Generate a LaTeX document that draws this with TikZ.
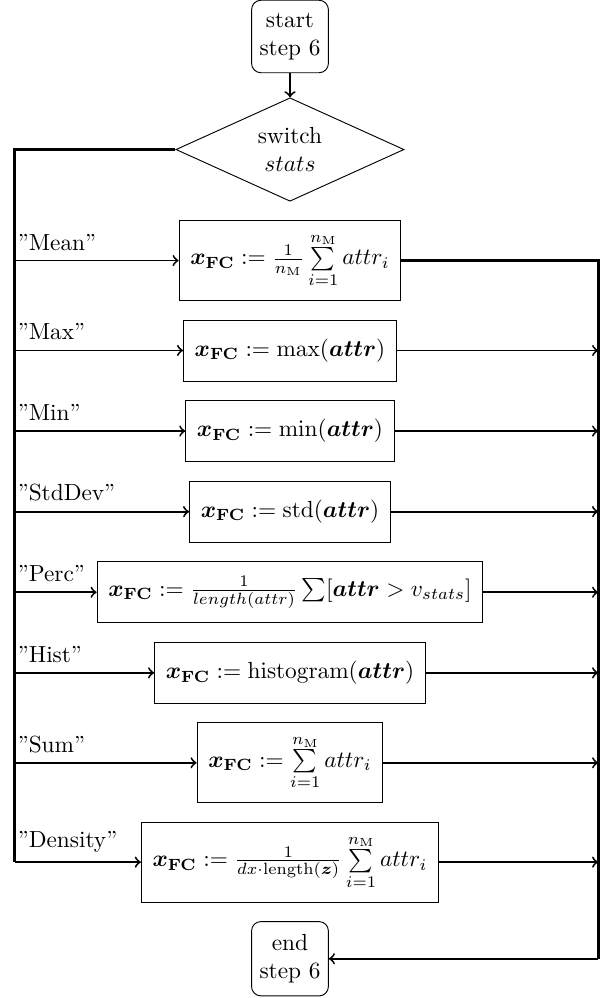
\documentclass[tikz,border=0pt]{standalone}
\usepackage{amsmath,amssymb}
\usetikzlibrary{matrix,arrows,shapes.geometric}

\tikzset{
  term/.style={draw, rounded corners, align=center, inner xsep=3.4pt, inner ysep=5.5pt},
  switchbox/.style={draw, diamond, aspect=2.2, align=center, inner sep=0pt, minimum width=3.44cm, minimum height=1.56cm},
  calc/.style={draw, inner xsep=4.8pt, inner ysep=5.4pt, minimum height=0.92cm},
  case/.style={above right, inner xsep=1pt, inner ysep=4pt}
}

\begin{document}
\begin{tikzpicture}
  \useasboundingbox (0,0) rectangle (9.05,-15.05);
  \coordinate (lft) at (0.219,0);
  \coordinate (rgt) at (9.02,0);
  \matrix (m) [row sep=8pt, anchor=north, inner sep=0pt] at (4.373,0.01)
  {
\node[term] (start) {start\\step 6}; \\[0.083cm]
\node[switchbox] (switch) {switch\\$stats$}; \\
\node[calc] (mean) {$\boldsymbol{x}_{\mathbf{FC}} := \frac{1}{n_{\mathrm{M}}} \sum\limits_{i=1}^{n_{\mathrm{M}}} attr_i$}; \\
\node[calc] (max) {$\boldsymbol{x}_{\mathbf{FC}} := \max(\boldsymbol{attr})$}; \\
\node[calc] (min) {$\boldsymbol{x}_{\mathbf{FC}} := \min(\boldsymbol{attr})$}; \\
\node[calc] (std) {$\boldsymbol{x}_{\mathbf{FC}} := \mathrm{std}(\boldsymbol{attr})$}; \\
\node[calc] (perc) {$\boldsymbol{x}_{\mathbf{FC}} := \frac{1}{length(attr)} \sum [\boldsymbol{attr} > v_{stats}]$}; \\
\node[calc] (hist) {$\boldsymbol{x}_{\mathbf{FC}} := \mathrm{histogram}(\boldsymbol{attr})$}; \\
\node[calc] (sum) {$\boldsymbol{x}_{\mathbf{FC}} := \sum\limits_{i=1}^{n_{\mathrm{M}}} attr_i$}; \\
\node[calc] (dens) {$\boldsymbol{x}_{\mathbf{FC}} := \frac{1}{dx \cdot \mathrm{length}(\boldsymbol{z})} \sum\limits_{i=1}^{n_{\mathrm{M}}} attr_i$}; \\
\node[term] (end) {end\\step 6}; \\
};
  \draw[very thick] (switch.west) -| (lft |- dens)
    edge[->, thick] node [case, pos=0] {''Density''} (dens);
  \draw[very thick] (mean) -- (rgt |- mean) -- (rgt |- end);
  \draw[->, thick] (rgt |- end) -- (end);
  \path[->, thick]
  (start) edge (switch)
  (lft |- mean) edge node [case, pos=0] {''Mean''} (mean)
  (lft |- max) edge node [case, pos=0] {''Max''} (max)
  (lft |- min) edge node [case, pos=0] {''Min''} (min)
  (lft |- std) edge node [case, pos=0] {''StdDev''} (std)
  (lft |- perc) edge node [case, pos=0] {''Perc''} (perc)
  (lft |- hist) edge node [case, pos=0] {''Hist''} (hist)
  (lft |- sum) edge node [case, pos=0] {''Sum''} (sum)
  (max) edge (rgt |- max)
  (min) edge (rgt |- min)
  (std) edge (rgt |- std)
  (perc) edge (rgt |- perc)
  (hist) edge (rgt |- hist)
  (sum) edge (rgt |- sum)
  (dens) edge (rgt |- dens)
  ;
\end{tikzpicture}
\end{document}
